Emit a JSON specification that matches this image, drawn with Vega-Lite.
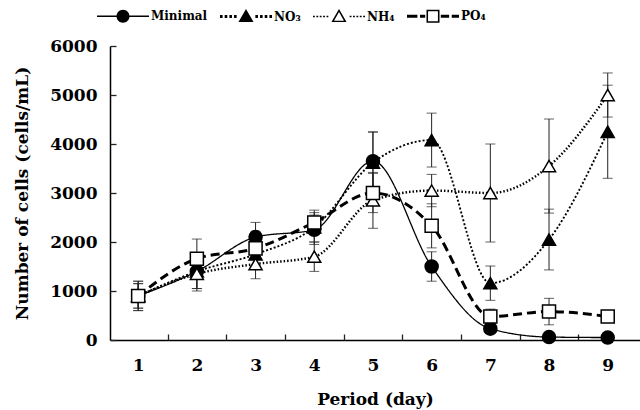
{
  "$schema": "https://vega.github.io/schema/vega-lite/v6.json",
  "width": 530,
  "height": 294,
  "autosize": {"type": "none"},
  "padding": {"left": 110, "top": 46, "right": 0, "bottom": 70},
  "background": "white",
  "config": {"view": {"stroke": null}, "font": "DejaVu Serif"},
  "data": {
    "values": [
      {"day": 1, "series": "Minimal", "value": 900, "err": 250},
      {"day": 2, "series": "Minimal", "value": 1400, "err": 350},
      {"day": 3, "series": "Minimal", "value": 2100, "err": 300},
      {"day": 4, "series": "Minimal", "value": 2250, "err": 300},
      {"day": 5, "series": "Minimal", "value": 3650, "err": 600},
      {"day": 6, "series": "Minimal", "value": 1500, "err": 300},
      {"day": 7, "series": "Minimal", "value": 230, "err": 100},
      {"day": 8, "series": "Minimal", "value": 60, "err": 50},
      {"day": 9, "series": "Minimal", "value": 50, "err": 50},
      {"day": 1, "series": "NO₃", "value": 900, "err": 250},
      {"day": 2, "series": "NO₃", "value": 1400, "err": 350},
      {"day": 3, "series": "NO₃", "value": 1750, "err": 300},
      {"day": 4, "series": "NO₃", "value": 2300, "err": 300},
      {"day": 5, "series": "NO₃", "value": 3620, "err": 620},
      {"day": 6, "series": "NO₃", "value": 4080, "err": 550},
      {"day": 7, "series": "NO₃", "value": 1160, "err": 350},
      {"day": 8, "series": "NO₃", "value": 2050, "err": 620},
      {"day": 9, "series": "NO₃", "value": 4250, "err": 950},
      {"day": 1, "series": "NH₄", "value": 900, "err": 300},
      {"day": 2, "series": "NH₄", "value": 1350, "err": 350},
      {"day": 3, "series": "NH₄", "value": 1550, "err": 300},
      {"day": 4, "series": "NH₄", "value": 1700, "err": 300},
      {"day": 5, "series": "NH₄", "value": 2850, "err": 570},
      {"day": 6, "series": "NH₄", "value": 3050, "err": 330},
      {"day": 7, "series": "NH₄", "value": 3000, "err": 1000},
      {"day": 8, "series": "NH₄", "value": 3550, "err": 960},
      {"day": 9, "series": "NH₄", "value": 5000, "err": 450},
      {"day": 1, "series": "PO₄", "value": 900, "err": 300},
      {"day": 2, "series": "PO₄", "value": 1660, "err": 400},
      {"day": 3, "series": "PO₄", "value": 1870, "err": 350},
      {"day": 4, "series": "PO₄", "value": 2400, "err": 250},
      {"day": 5, "series": "PO₄", "value": 3000, "err": 400},
      {"day": 6, "series": "PO₄", "value": 2330, "err": 450},
      {"day": 7, "series": "PO₄", "value": 480, "err": 150},
      {"day": 8, "series": "PO₄", "value": 580, "err": 270},
      {"day": 9, "series": "PO₄", "value": 480, "err": 100}
    ]
  },
  "layer": [
    {
      "mark": {"type": "line", "interpolate": "monotone", "color": "black"},
      "encoding": {
        "x": {
          "field": "day",
          "type": "quantitative",
          "scale": {"domain": [0.52, 9.55], "nice": false, "zero": false},
          "axis": {
            "orient": "bottom",
            "title": "Period (day)",
            "values": [1, 2, 3, 4, 5, 6, 7, 8, 9],
            "ticks": false,
            "labelPadding": 17,
            "domainColor": "black",
            "domainWidth": 1.5,
            "grid": false,
            "labelFlush": false,
            "labelOverlap": false,
            "labelFont": "DejaVu Serif",
            "labelFontWeight": "bold",
            "labelFontSize": 17,
            "labelColor": "black",
            "titleFont": "DejaVu Serif",
            "titleFontWeight": "bold",
            "titleFontSize": 17,
            "titleColor": "black",
            "titlePadding": 18
          }
        },
        "y": {
          "field": "value",
          "type": "quantitative",
          "scale": {"domain": [0, 6000], "nice": false},
          "axis": {
            "orient": "left",
            "title": "Number of cells (cells/mL)",
            "values": [0, 1000, 2000, 3000, 4000, 5000, 6000],
            "format": "d",
            "ticks": false,
            "labelPadding": 13,
            "domainColor": "black",
            "domainWidth": 1.5,
            "grid": false,
            "labelFont": "DejaVu Serif",
            "labelFontWeight": "bold",
            "labelFontSize": 17,
            "labelColor": "black",
            "titleFont": "DejaVu Serif",
            "titleFontWeight": "bold",
            "titleFontSize": 17,
            "titleColor": "black",
            "titlePadding": 18
          }
        },
        "strokeDash": {
          "field": "series",
          "type": "nominal",
          "scale": {"domain": ["Minimal", "NO₃", "NH₄", "PO₄"], "range": [[1, 0], [2, 2], [1.5, 2], [9, 5]]},
          "legend": null
        },
        "strokeWidth": {
          "field": "series",
          "type": "nominal",
          "scale": {"domain": ["Minimal", "NO₃", "NH₄", "PO₄"], "range": [1.3, 3, 1.5, 3]},
          "legend": null
        }
      }
    },
    {
      "mark": {"type": "errorbar", "color": "#222", "thickness": 1, "ticks": {"size": 10, "thickness": 1, "color": "#222"}},
      "encoding": {
        "x": {"field": "day", "type": "quantitative", "axis": null},
        "y": {"field": "value", "type": "quantitative", "axis": null},
        "yError": {"field": "err"}
      }
    },
    {
      "mark": {"type": "point", "size": 170, "strokeWidth": 1.5, "stroke": "black", "opacity": 1},
      "encoding": {
        "x": {"field": "day", "type": "quantitative", "axis": null},
        "y": {"field": "value", "type": "quantitative", "axis": null},
        "shape": {
          "field": "series",
          "type": "nominal",
          "scale": {"domain": ["Minimal", "NO₃", "NH₄", "PO₄"], "range": ["circle", "triangle-up", "triangle-up", "square"]},
          "legend": null
        },
        "fill": {
          "field": "series",
          "type": "nominal",
          "scale": {"domain": ["Minimal", "NO₃", "NH₄", "PO₄"], "range": ["black", "black", "white", "white"]},
          "legend": null
        }
      }
    },
    {
      "transform": [{"filter": "datum.day > 100"}],
      "mark": {"type": "point", "filled": true, "color": "black"},
      "encoding": {
        "x": {
          "field": "day",
          "type": "quantitative",
          "axis": {
            "orient": "bottom",
            "offset": -6,
            "values": [1.5, 2.5, 3.5, 4.5, 5.5, 6.5, 7.5, 8.5],
            "domain": false,
            "labels": false,
            "title": null,
            "grid": false,
            "ticks": true,
            "tickSize": 6,
            "tickWidth": 1.3,
            "tickColor": "#222"
          }
        },
        "y": {
          "field": "value",
          "type": "quantitative",
          "axis": {
            "orient": "left",
            "offset": -6,
            "values": [0, 1000, 2000, 3000, 4000, 5000, 6000],
            "domain": false,
            "labels": false,
            "title": null,
            "grid": false,
            "ticks": true,
            "tickSize": 6,
            "tickWidth": 1.3,
            "tickColor": "#222"
          }
        },
        "shape": {
          "field": "series",
          "type": "nominal",
          "scale": {
            "domain": ["Minimal", "NO₃", "NH₄", "PO₄"],
            "range": [
              "M-1,-0.03H-0.25V0.03H-1Z M0.25,-0.03H1V0.03H0.25Z M0.25,0A0.25,0.25,0,1,1,-0.25,0A0.25,0.25,0,1,1,0.25,0Z",
              "M-1,-0.058H-0.9V0.058H-1Z M-0.82,-0.058H-0.72V0.058H-0.82Z M-0.64,-0.058H-0.54V0.058H-0.64Z M-0.46,-0.058H-0.36V0.058H-0.46Z M0.36,-0.058H0.46V0.058H0.36Z M0.54,-0.058H0.64V0.058H0.54Z M0.72,-0.058H0.82V0.058H0.72Z M0.9,-0.058H1V0.058H0.9Z M0,-0.29L0.29,0.21L-0.29,0.21Z",
              "M-1,-0.025H-0.93V0.025H-1Z M-0.87,-0.025H-0.8V0.025H-0.87Z M-0.74,-0.025H-0.67V0.025H-0.74Z M-0.61,-0.025H-0.54V0.025H-0.61Z M-0.48,-0.025H-0.41V0.025H-0.48Z M0.41,-0.025H0.48V0.025H0.41Z M0.54,-0.025H0.61V0.025H0.54Z M0.67,-0.025H0.74V0.025H0.67Z M0.8,-0.025H0.87V0.025H0.8Z M0.93,-0.025H1V0.025H0.93Z M0,-0.29L0.29,0.21L-0.29,0.21Z M0,-0.17L-0.19,0.16L0.19,0.16Z",
              "M-1,-0.058H-0.6V0.058H-1Z M-0.5,-0.058H-0.3V0.058H-0.5Z M0.3,-0.058H0.62V0.058H0.3Z M0.72,-0.058H1V0.058H0.72Z M-0.25,-0.25H0.25V0.25H-0.25Z M-0.19,-0.19V0.19H0.19V-0.19Z"
            ]
          },
          "legend": {
            "orient": "none",
            "legendX": -13,
            "legendY": -56,
            "direction": "horizontal",
            "title": null,
            "padding": 0,
            "symbolSize": 2704,
            "symbolFillColor": "black",
            "symbolStrokeWidth": 0,
            "symbolOpacity": 1,
            "labelFont": "DejaVu Serif",
            "labelFontWeight": "bold",
            "labelFontSize": 12,
            "labelColor": "black",
            "labelOffset": 2,
            "columnPadding": 12
          }
        }
      }
    }
  ],
  "resolve": {"scale": {"shape": "independent"}, "axis": {"x": "independent", "y": "independent"}}
}
